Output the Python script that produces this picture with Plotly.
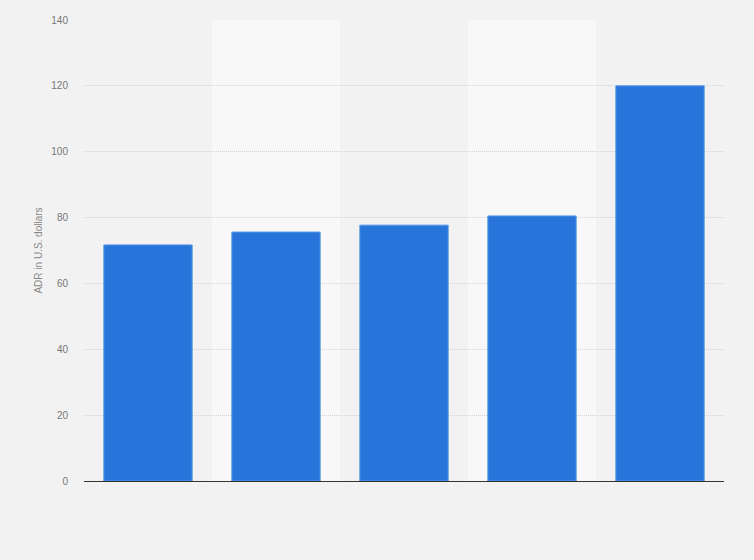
import plotly.graph_objects as go

# Data (categories are not labelled in the chart)
categories = ["A", "B", "C", "D", "E"]
adr_values = [71.7, 75.6, 77.7, 80.5, 120.0]
y_ticks = [0, 20, 40, 60, 80, 100, 120, 140]

fig = go.Figure()

fig.add_trace(go.Bar(
    x=categories,
    y=adr_values,
    width=0.69,
    marker=dict(color="#2775db", line=dict(color="#5a96e6", width=1)),
    hoverinfo="y",
))

# alternating lighter bands behind every second category
for i, cat in enumerate(categories):
    if i % 2 == 1:
        fig.add_shape(type="rect", xref="x", yref="paper",
                      x0=i - 0.5, x1=i + 0.5, y0=0, y1=1,
                      fillcolor="#f8f8f8", line_width=0, layer="below")

fig.update_layout(
    width=754, height=560,
    margin=dict(l=84, r=30, t=20, b=79),
    paper_bgcolor="#f2f2f2",
    plot_bgcolor="#f2f2f2",
    font=dict(family="Arial, Liberation Sans, sans-serif", size=10, color="#777777"),
    showlegend=False,
    bargap=0.31,
)

fig.update_xaxes(
    showticklabels=False, showgrid=False, zeroline=False,
    showline=True, linecolor="#333333", linewidth=1,
    range=[-0.5, 4.5],
)
fig.update_yaxes(
    range=[0, 140], tickvals=y_ticks,
    showgrid=True, gridcolor="#d2d2d2", griddash="1px,1px", gridwidth=1,
    zeroline=False, showline=False,
    ticks="", ticklabelstandoff=15,
    title=dict(text="ADR in U.S. dollars", font=dict(size=10, color="#888888"), standoff=6),
)

fig.write_html("out.html",
               config={"displayModeBar": False},
               post_script="document.body.style.margin='0';document.body.style.overflow='hidden';")
